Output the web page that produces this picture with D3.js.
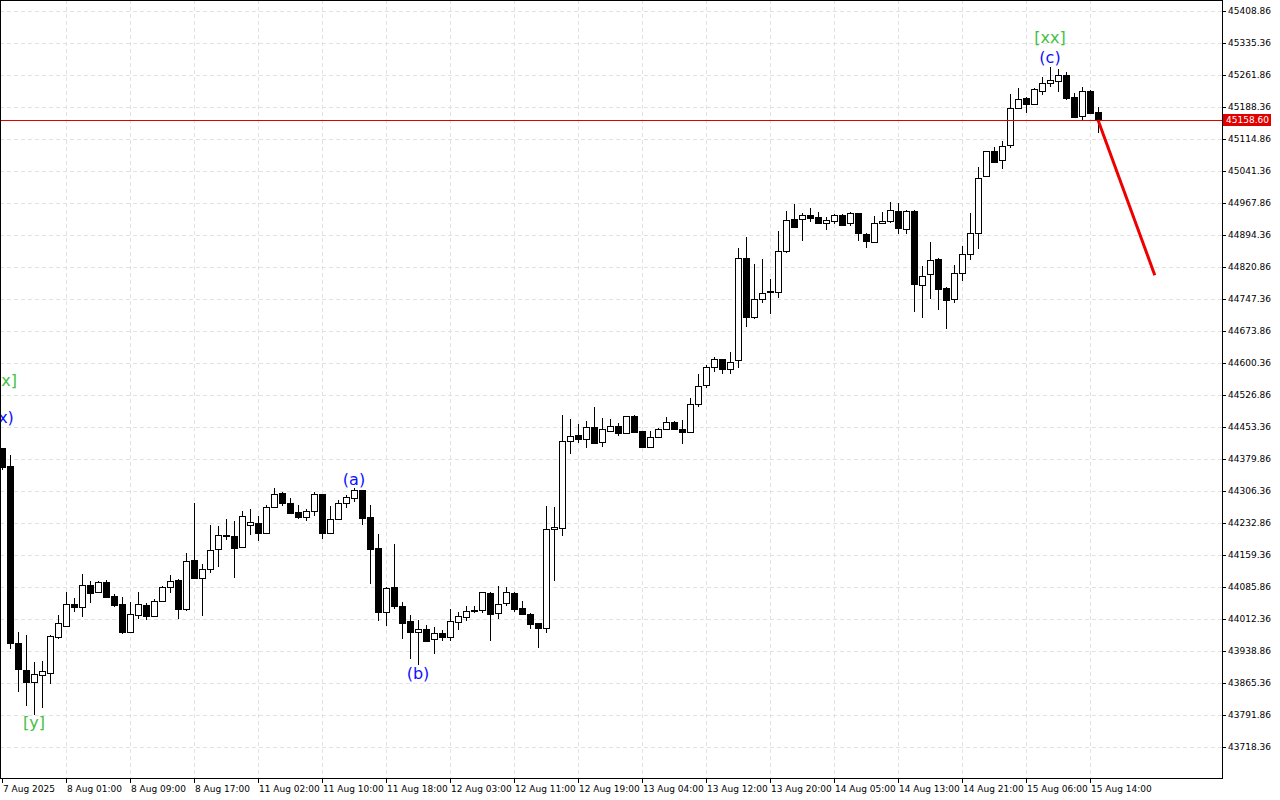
<!DOCTYPE html>
<html><head><meta charset="utf-8">
<script src="https://cdn.jsdelivr.net/npm/d3@7"></script>
<style>body{margin:0;background:#fff}svg{display:block}</style>
</head><body><svg id="c" width="1280" height="800"></svg>
<script>
const open=[44405,44364,43957,43895,43867,43883,43888,43971,43996,44047,44040,44090,44074,44097,44065,44047,43982,44021,44044,44019,44053,44086,44102,44035,44148,44106,44127,44173,44203,44203,44178,44228,44233,44210,44269,44302,44279,44258,44247,44260,44299,44210,44242,44279,44290,44308,44247,44175,44028,44086,44042,44008,43982,43989,43966,43980,43971,44005,44017,44030,44033,44072,44026,44049,44072,44037,44024,44003,43992,44219,44221,44421,44435,44426,44453,44419,44444,44455,44440,44479,44444,44407,44430,44449,44465,44449,44442,44506,44550,44591,44609,44586,44607,44841,44706,44747,44763,44763,44858,44931,44931,44940,44936,44922,44926,44940,44922,44945,44896,44878,44922,44926,44949,44908,44949,44779,44805,44839,44772,44747,44807,44851,44899,45030,45087,45067,45101,45186,45209,45195,45225,45243,45248,45262,45211,45168,45225,45177];
const high=[44405,44389,43982,43975,43913,43916,43975,44021,44074,44060,44116,44099,44099,44102,44070,44063,44051,44074,44049,44058,44088,44113,44104,44164,44279,44138,44228,44226,44242,44237,44260,44265,44249,44274,44313,44304,44290,44274,44265,44304,44299,44272,44286,44297,44313,44308,44274,44207,44086,44184,44051,44021,44010,43998,43994,43987,44035,44028,44042,44042,44074,44074,44088,44086,44074,44053,44026,44003,44272,44269,44481,44472,44460,44467,44499,44474,44472,44462,44479,44481,44444,44444,44451,44476,44467,44469,44520,44575,44596,44614,44609,44625,44864,44890,44828,44839,44793,44903,44949,44965,44945,44956,44947,44936,44942,44942,44947,44945,44899,44938,44947,44970,44968,44952,44952,44823,44878,44841,44775,44825,44869,44945,45050,45087,45096,45110,45218,45232,45211,45232,45257,45280,45276,45269,45220,45234,45227,45188];
const low=[44354,43943,43844,43812,43792,43808,43862,43966,43996,44028,44017,44049,44074,44063,44040,43978,43982,44012,44010,44017,44053,44072,44012,44030,44104,44019,44118,44132,44194,44106,44175,44205,44191,44210,44267,44272,44256,44242,44237,44249,44196,44210,44240,44267,44281,44228,44093,44008,43996,44035,43966,43920,43907,43959,43932,43962,43962,43987,44008,44026,44026,43962,44012,44042,44028,44024,43989,43946,43980,44099,44203,44391,44417,44405,44417,44407,44442,44433,44440,44440,44407,44405,44430,44449,44446,44414,44442,44499,44543,44580,44575,44575,44589,44683,44701,44738,44713,44750,44853,44913,44880,44924,44919,44906,44919,44915,44915,44880,44864,44878,44922,44922,44897,44897,44717,44704,44747,44722,44678,44738,44789,44837,44862,45030,45061,45046,45094,45186,45174,45195,45216,45234,45223,45204,45165,45158,45174,45128];
const close=[44361,43957,43897,43867,43886,43893,43973,44003,44047,44040,44090,44072,44097,44063,44044,43982,44024,44047,44019,44053,44085,44099,44035,44146,44106,44127,44171,44205,44205,44175,44249,44235,44210,44269,44299,44279,44256,44247,44260,44299,44210,44242,44279,44292,44308,44244,44173,44028,44083,44042,44003,43982,43989,43961,43980,43971,44008,44019,44030,44033,44074,44024,44047,44074,44035,44024,44001,43992,44219,44223,44421,44433,44426,44453,44417,44449,44455,44440,44479,44442,44407,44430,44449,44465,44449,44442,44506,44547,44591,44609,44586,44602,44841,44706,44747,44761,44766,44858,44929,44913,44940,44933,44922,44929,44940,44917,44945,44899,44880,44922,44926,44952,44910,44949,44782,44800,44837,44770,44745,44807,44851,44899,45025,45087,45061,45099,45186,45207,45195,45230,45243,45250,45262,45209,45165,45225,45174,45158.6];
const timeLabels=["7 Aug 2025","8 Aug 01:00","8 Aug 09:00","8 Aug 17:00","11 Aug 02:00","11 Aug 10:00","11 Aug 18:00","12 Aug 03:00","12 Aug 11:00","12 Aug 19:00","13 Aug 04:00","13 Aug 12:00","13 Aug 20:00","14 Aug 05:00","14 Aug 13:00","14 Aug 21:00","15 Aug 06:00","15 Aug 14:00"];
const priceTicks=[45408.86,45335.36,45261.86,45188.36,45114.86,45041.36,44967.86,44894.36,44820.86,44747.36,44673.86,44600.36,44526.86,44453.36,44379.86,44306.36,44232.86,44159.36,44085.86,44012.36,43938.86,43865.36,43791.86,43718.36];
const currentPrice=45158.60;
const forecast=[{i:137,p:45158.6},{i:144.1,p:44802}];
const waveLabels=[
 {i:4,p:43772,t:"[y]",c:"#44c044"},
 {i:0.5,p:44558,t:"[x]",c:"#44c044"},
 {i:0.5,p:44474,t:"x)",c:"#1010ff"},
 {i:44,p:44331,t:"(a)",c:"#1010ff"},
 {i:52,p:43885,t:"(b)",c:"#1010ff"},
 {i:131,p:45300,t:"(c)",c:"#1010ff"},
 {i:131,p:45345,t:"[xx]",c:"#44c044"}];

const svg=d3.select("#c");
const W=1222,H=778;
const x=d3.scaleLinear().domain([0,137]).range([2,1098]);
const y=d3.scaleLinear().domain([43718.36,45408.86]).range([747,11]);
const g=svg.append("g");
g.selectAll(".hg").data(priceTicks).join("line").attr("x1",0).attr("x2",W).attr("y1",d=>Math.round(y(d))+0.5).attr("y2",d=>Math.round(y(d))+0.5).attr("stroke","#e2e2e2").attr("stroke-dasharray","4,3");
g.selectAll(".vg").data(timeLabels.slice(1)).join("line").attr("x1",(d,k)=>Math.round(x((k+1)*8))+0.5).attr("x2",(d,k)=>Math.round(x((k+1)*8))+0.5).attr("y1",0).attr("y2",H).attr("stroke","#e2e2e2").attr("stroke-dasharray","4,3");
const idx=d3.range(open.length);
const cg=g.append("g").attr("shape-rendering","crispEdges");
cg.selectAll(".w").data(idx).join("line").attr("x1",i=>Math.round(x(i))+0.5).attr("x2",i=>Math.round(x(i))+0.5).attr("y1",i=>y(high[i])).attr("y2",i=>y(low[i])).attr("stroke","#000").attr("stroke-width",1);
cg.selectAll(".b").data(idx).join("rect")
 .attr("x",i=>Math.round(x(i))-2.5).attr("width",6)
 .attr("y",i=>Math.round(y(Math.max(open[i],close[i])))+0.5)
 .attr("height",i=>Math.max(1,Math.round(Math.abs(y(open[i])-y(close[i])))))
 .attr("fill",i=>close[i]>=open[i]?"#fff":"#000").attr("stroke","#000");
g.append("line").attr("x1",0).attr("x2",W).attr("y1",Math.round(y(currentPrice))+0.5).attr("y2",Math.round(y(currentPrice))+0.5).attr("stroke","#e00000");
g.append("line").attr("x1",x(forecast[0].i)).attr("y1",y(forecast[0].p)).attr("x2",x(forecast[1].i)).attr("y2",y(forecast[1].p)).attr("stroke","#ee0000").attr("stroke-width",3);
g.selectAll(".wl").data(waveLabels).join("text").attr("x",d=>x(d.i)).attr("y",d=>y(d.p)).attr("text-anchor","middle").attr("dominant-baseline","middle")
 .attr("font-family","DejaVu Sans, sans-serif").attr("font-size",16).attr("fill",d=>d.c).text(d=>d.t);
svg.append("rect").attr("x",0.5).attr("y",0.5).attr("width",W).attr("height",H).attr("fill","none").attr("stroke","#000");
const pa=svg.append("g");
pa.selectAll("line").data(priceTicks).join("line").attr("x1",W).attr("x2",W+4).attr("y1",d=>Math.round(y(d))+0.5).attr("y2",d=>Math.round(y(d))+0.5).attr("stroke","#000");
pa.selectAll("text").data(priceTicks).join("text").attr("x",W+6).attr("y",d=>y(d)+3).attr("font-family","DejaVu Sans, sans-serif").attr("font-size",9).attr("fill","#000").text(d=>d.toFixed(2));
const cy=Math.round(y(currentPrice));
svg.append("rect").attr("x",W+1).attr("y",cy-6).attr("width",48).attr("height",12).attr("fill","#e00000");
svg.append("text").attr("x",W+4).attr("y",cy+3).attr("font-family","DejaVu Sans, sans-serif").attr("font-size",9).attr("fill","#fff").text(currentPrice.toFixed(2));
const ta=svg.append("g");
ta.selectAll("line").data(timeLabels).join("line").attr("x1",(d,k)=>Math.round(x(k*8))+0.5).attr("x2",(d,k)=>Math.round(x(k*8))+0.5).attr("y1",H).attr("y2",H+5).attr("stroke","#000");
ta.selectAll("text").data(timeLabels).join("text").attr("x",(d,k)=>x(k*8)+1).attr("y",792).attr("font-family","DejaVu Sans, sans-serif").attr("font-size",9).attr("fill","#000").text(d=>d);
</script></body></html>
